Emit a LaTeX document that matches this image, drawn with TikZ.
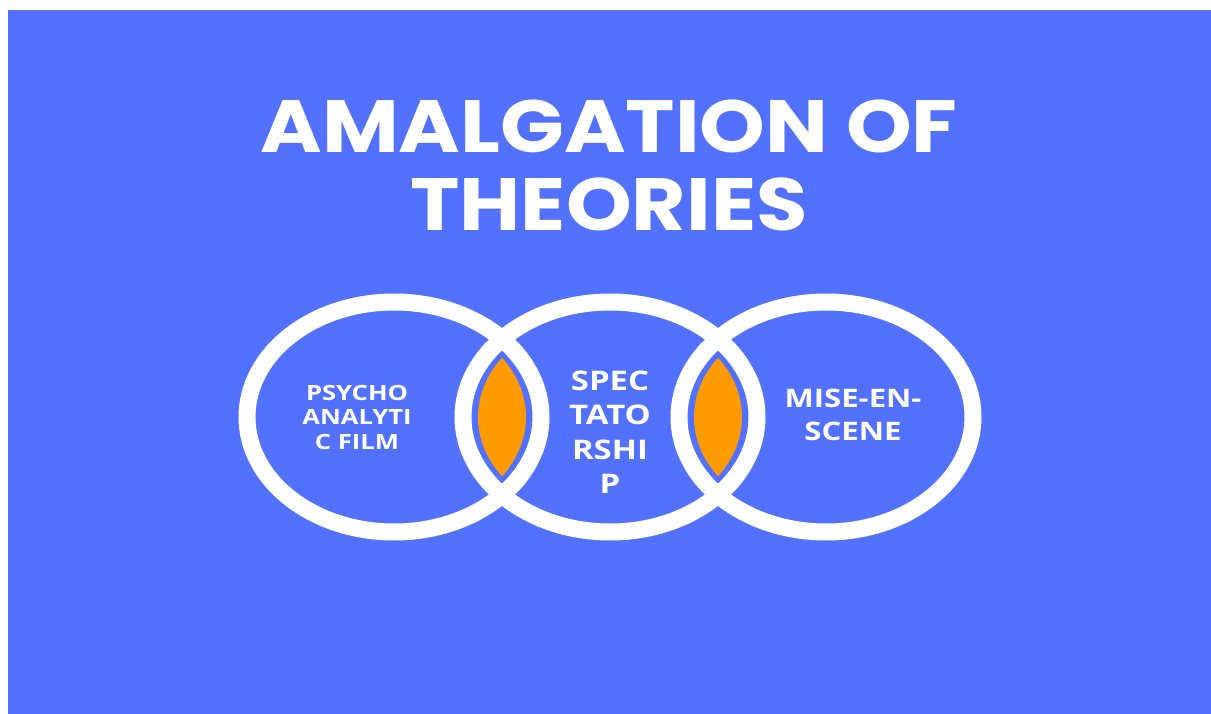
\documentclass[tikz,border=0pt]{standalone}
\usepackage{fontspec}
\setmainfont{Open Sans}
\newfontfamily\titlefont{Poppins}[FakeStretch=1.13]
\newfontfamily\labfont{Open Sans}[FakeStretch=1.22]
\definecolor{bgblue}{HTML}{5271FF}
\definecolor{lensor}{HTML}{FF9A00}
\begin{document}
\begin{tikzpicture}[x=1pt,y=-1pt,
  ring/.style={draw=white,line width=17pt},
  lens/.style={fill=lensor},
  label/.style={text=white,align=center,inner sep=0pt},
]
\useasboundingbox (0,0) rectangle (1211,714);
\fill[white] (0,0) rectangle (1211,714);
\fill[bgblue] (8,10) rectangle (1211,714);
% lenses
\begin{scope}
  \clip (394,417) ellipse [x radius=132, y radius=103];
  \fill[lens] (610,417) ellipse [x radius=132, y radius=103];
\end{scope}
\begin{scope}
  \clip (610,417) ellipse [x radius=132, y radius=103];
  \fill[lens] (826,417) ellipse [x radius=132, y radius=103];
\end{scope}
% rings
\draw[ring] (394,417) ellipse [x radius=147, y radius=115];
\draw[ring] (610,417) ellipse [x radius=147, y radius=115];
\draw[ring] (826,417) ellipse [x radius=147, y radius=115];
% title
\node[label,font=\titlefont\bfseries\fontsize{74}{78}\selectfont] (title) at (609,165) {AMALGATION OF\\THEORIES};
% labels
\node[label,font=\labfont\bfseries\fontsize{21}{24.5}\selectfont] (psy) at (357,417) {PSYCHO\\ANALYTI\\C FILM};
\node[label,font=\labfont\bfseries\fontsize{27}{34.5}\selectfont] (spec) at (610,432) {SPEC\\TATO\\RSHI\\P};
\node[label,font=\labfont\bfseries\fontsize{25.5}{33}\selectfont] (mise) at (853,415) {MISE-EN-\\SCENE};
\end{tikzpicture}
\end{document}
